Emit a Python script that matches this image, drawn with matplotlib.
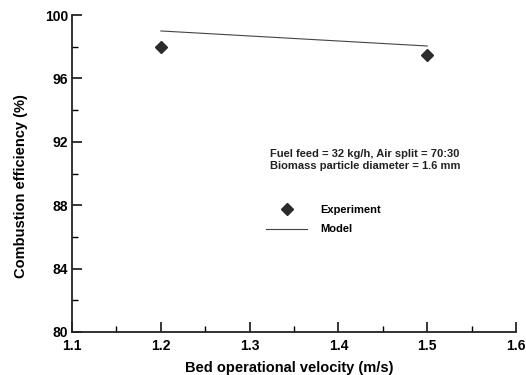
import numpy as np
import matplotlib.pyplot as plt
from matplotlib.lines import Line2D
from matplotlib.ticker import MultipleLocator

plt.rcParams['font.family'] = ['Liberation Sans', 'DejaVu Sans']
plt.rcParams['font.weight'] = 'bold'

# measured and predicted combustion efficiency
velocity_exp = [1.2, 1.5]
efficiency_exp = [98.0, 97.5]
velocity_model = [1.2, 1.5]
efficiency_model = [99.0, 98.05]

fig = plt.figure(figsize=(5.26, 3.75), dpi=100)
ax = fig.add_axes([0.137, 0.1147, 0.844, 0.845])

ax.plot(velocity_model, efficiency_model, color='#444444', lw=0.8)
ax.plot(velocity_exp, efficiency_exp, 'D', color='#2b2b2b', ms=6.5, mec='#2b2b2b')

ax.set_xlim(1.1, 1.6)
ax.set_ylim(80, 100)
ax.xaxis.set_major_locator(MultipleLocator(0.1))
ax.xaxis.set_minor_locator(MultipleLocator(0.05))
ax.yaxis.set_major_locator(MultipleLocator(4))
ax.yaxis.set_minor_locator(MultipleLocator(2))
ax.set_xticklabels([f'{v:.1f}' for v in ax.get_xticks()])
ax.tick_params(which='major', direction='in', length=7, width=1.1, labelsize=10)
ax.tick_params(axis='x', which='major', pad=5)
ax.tick_params(axis='y', which='major', pad=3)
ax.tick_params(which='minor', direction='in', length=4, width=1.0)
for lbl in ax.get_xticklabels() + ax.get_yticklabels():
    lbl.set_fontweight('bold')

for side in ['top', 'right']:
    ax.spines[side].set_visible(False)
for side in ['left', 'bottom']:
    ax.spines[side].set_linewidth(1.3)
    ax.spines[side].set_color('#222222')

ax.set_xlabel('Bed operational velocity (m/s)', fontsize=10.5, fontweight='bold')
ax.xaxis.set_label_coords(0.49, -0.09)
ax.set_ylabel('Combustion efficiency (%)', fontsize=10.5, fontweight='bold')
ax.yaxis.set_label_coords(-0.1, 0.46)

fig.text(270 / 526, 1 - 160 / 375, 'Fuel feed = 32 kg/h, Air split = 70:30\nBiomass particle diameter = 1.6 mm',
         fontsize=8, fontweight='bold', va='center', ha='left', linespacing=1.2, color='#222222')

handles = [Line2D([], [], ls='none', marker='D', color='#2b2b2b', ms=6.5),
           Line2D([], [], color='#444444', lw=0.8)]
ax.legend(handles, ['Experiment', 'Model'], frameon=False, loc='upper left',
          bbox_to_anchor=(266 / 526, 1 - 205 / 375), bbox_transform=fig.transFigure,
          borderpad=0, borderaxespad=0, handlelength=3.7, handletextpad=1.2,
          labelspacing=0.85, prop={'size': 8, 'weight': 'bold'})

fig.savefig('out.png', dpi=100)
